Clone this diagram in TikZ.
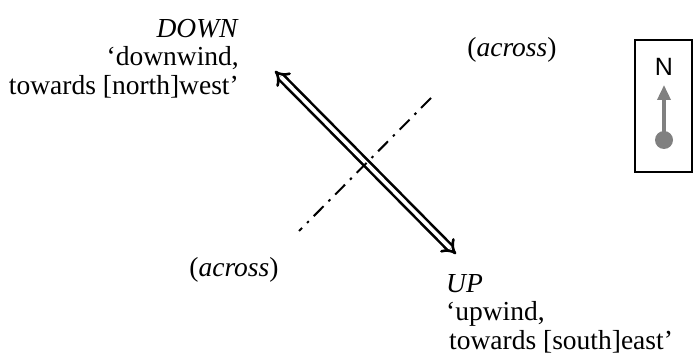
\documentclass[tikz,border=0pt]{standalone}
\usepackage{fontspec}
\setmainfont{Liberation Serif}
\newfontfamily\compassfont{Liberation Sans}
\usetikzlibrary{arrows.meta}
\tikzset{
  lbl/.style={inner sep=0pt, font=\fontsize{27.5}{28.5}\selectfont},
  windarrow/.style={double, double distance=3.8pt, line width=2.6pt, {Implies[length=13pt,width=21pt]}-{Implies[length=13pt,width=21pt]}},
  acrossline/.style={line width=2pt, dash pattern=on 14pt off 7pt on 2.5pt off 7pt},
  compassbox/.style={draw, line width=1.4pt, minimum width=57pt, minimum height=132pt, inner sep=0pt},
  needle/.style={draw=gray, line width=3.5pt, -{Triangle[length=15pt,width=13pt]}}
}
\begin{document}
\begin{tikzpicture}[x=1pt,y=1pt]
\useasboundingbox (0,0) rectangle (697,362);
% main arrow
\coordinate (nw) at (275,291);
\coordinate (se) at (456,108);
\draw[windarrow] (nw) -- (se);
% across line
\coordinate (ane) at (431,264);
\coordinate (asw) at (299,131);
\draw[acrossline] (ane) -- (asw);
% labels
\node[lbl, align=right, anchor=north east] (down) at (239,343) {\textit{DOWN}\\`downwind,\\towards [north]west'};
\node[lbl, align=left, anchor=north west] (up) at (446,88) {\textit{UP}\\`upwind,\\\hspace{3pt}towards [south]east'};
\node[lbl] (acrossa) at (512,312) {(\textit{across})};
\node[lbl] (acrossb) at (234,92) {(\textit{across})};
% compass
\node[compassbox] (box) at (663.5,256) {};
\node[inner sep=0pt, font=\compassfont\fontsize{25}{28}\selectfont] (n) at (664,295) {N};
\node[circle, fill=gray, inner sep=0pt, minimum size=18pt] (dot) at (664,222) {};
\coordinate (tip) at (664,277);
\draw[needle] (dot.center) -- (tip);
\end{tikzpicture}
\end{document}
